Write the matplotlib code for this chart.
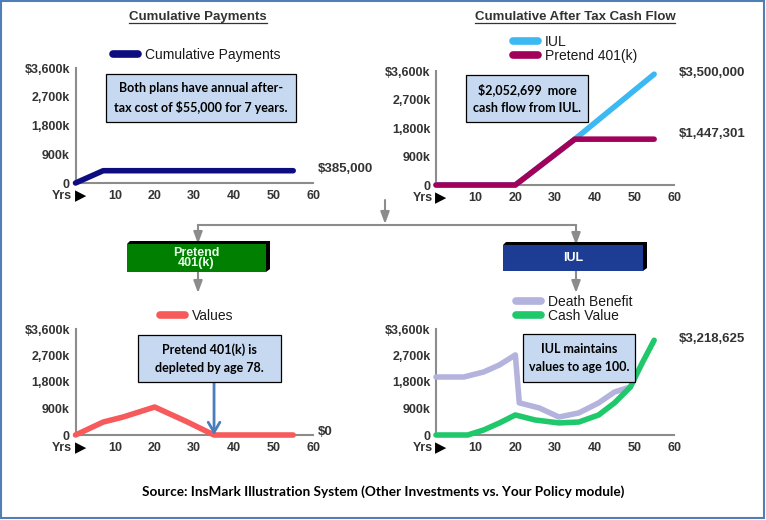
import numpy as np
import matplotlib
matplotlib.use("Agg")
import matplotlib.pyplot as plt
from matplotlib.patches import Rectangle, Polygon, FancyArrowPatch
from matplotlib.lines import Line2D

plt.rcParams['font.family'] = ['Liberation Sans', 'DejaVu Sans']

# ---- data ----
year_ticks = [10, 20, 30, 40, 50, 60]
year_labels = ['10', '20', '30', '40', '50', '60']
value_ticks = [0, 900000, 1800000, 2700000, 3600000]
value_labels = ['0', '900k', '1,800k', '2,700k', '$3,600k']

pay_years = [0, 7, 55]
pay_values = [0, 385000, 385000]

cf_years = [0, 20, 35, 55]
iul_cf = [0, 0, 1447301, 3500000]
k401_cf = [0, 0, 1447301, 1447301]

val_years = [0, 7, 12, 20, 28, 35, 55]
k401_values = [0, 440000, 610000, 950000, 460000, 0, 0]

db_years = [0, 7, 12, 16, 20, 21, 26, 31, 36, 41, 45, 49]
death_benefit = [1970000, 1970000, 2140000, 2380000, 2720000, 1090000, 920000,
                 610000, 750000, 1090000, 1460000, 1630000]
cv_years = [0, 8, 12, 16, 20, 25, 31, 36, 41, 45, 49, 52, 55]
cash_value = [0, 0, 170000, 410000, 680000, 510000, 410000, 440000, 680000,
              1090000, 1630000, 2450000, 3218625]

W, H = 766, 520
GRAY = '#8c8c8c'
TXT = '#333333'


def fx(px):
    return px / W


def fy(py):
    return 1 - py / H


fig = plt.figure(figsize=(W / 100, H / 100), dpi=100, facecolor='white')


def make_axes(left, top, right, bottom):
    ax = fig.add_axes([fx(left), fy(bottom), (right - left) / W, (bottom - top) / H])
    ax.set_xlim(0, 60)
    ax.set_ylim(0, 3600000)
    ax.set_xticks(year_ticks)
    ax.set_xticklabels(year_labels)
    ax.set_yticks(value_ticks)
    ax.set_yticklabels(value_labels)
    ax.tick_params(length=0, labelsize=9, colors=TXT)
    ax.tick_params(axis='x', pad=5)
    ax.tick_params(axis='y', pad=4)
    for lab in ax.get_xticklabels() + ax.get_yticklabels():
        lab.set_fontweight('bold')
    for s in ['top', 'right']:
        ax.spines[s].set_visible(False)
    for s in ['left', 'bottom']:
        ax.spines[s].set_color(GRAY)
        ax.spines[s].set_linewidth(1.5)
    ax.patch.set_visible(False)
    ax.annotate('Yrs', xy=(0, 0), xycoords=('data', 'axes fraction'),
                xytext=(-2.5, -5), textcoords='offset points', ha='right', va='top',
                fontsize=9, fontweight='bold', color=TXT)
    ax.annotate('▶', xy=(0, 0), xycoords=('data', 'axes fraction'),
                xytext=(-0.5, -3.8), textcoords='offset points', ha='left', va='top',
                fontsize=10.5, family='DejaVu Sans', color='black')
    return ax


def line(ax, x, y, color, label):
    ax.plot(x, y, color=color, lw=4, solid_capstyle='round',
            solid_joinstyle='round', clip_on=False, zorder=3, label=label)


def end_label(ax, x, y, text, dy=0):
    ax.annotate(text, xy=(x, y), xytext=(18, dy), textcoords='offset points',
                ha='left', va='center', fontsize=9.5, fontweight='bold', color=TXT)


def legend(ax, left, cy):
    leg = ax.legend(loc='center left', bbox_to_anchor=(fx(left), fy(cy)),
                    bbox_transform=fig.transFigure, frameon=False, fontsize=10,
                    handlelength=1.8, handletextpad=0.5, borderpad=0,
                    borderaxespad=0, labelspacing=0.0, labelcolor='#1a1a1a')
    for h in leg.get_lines():
        h.set_linewidth(5.5)
        h.set_solid_capstyle('round')


def note(x0, y0, x1, y1, text):
    fig.add_artist(Rectangle((fx(x0), fy(y1)), (x1 - x0) / W, (y1 - y0) / H,
                             transform=fig.transFigure, facecolor='#c6d9f1',
                             edgecolor='black', lw=0.9, zorder=5))
    fig.text(fx((x0 + x1) / 2), fy((y0 + y1) / 2), text, ha='center', va='center',
             family='Lato', fontweight='bold', fontsize=9, linespacing=1.65,
             color='black', zorder=6)


def button(x0, y0, x1, y1, color, text, tcolor, size):
    shadow = [(x0, y0), (x0 + 3, y0 - 3), (x1 + 4, y0 - 3), (x1 + 4, y1 - 3), (x1, y1)]
    fig.add_artist(Polygon([(fx(a), fy(b)) for a, b in shadow], closed=True,
                           transform=fig.transFigure, facecolor='black', lw=0))
    fig.add_artist(Rectangle((fx(x0), fy(y1)), (x1 - x0) / W, (y1 - y0) / H,
                             transform=fig.transFigure, facecolor=color, lw=0))
    fig.text(fx((x0 + x1) / 2), fy((y0 + y1) / 2), text, ha='center', va='center',
             fontsize=size, fontweight='bold', color=tcolor, linespacing=0.7)


def arrow(x, y0, y1):
    fig.add_artist(FancyArrowPatch((fx(x), fy(y0)), (fx(x), fy(y1)),
                                   transform=fig.transFigure,
                                   arrowstyle='-|>,head_length=0.6,head_width=0.22',
                                   mutation_scale=12, color=GRAY, lw=1.5,
                                   shrinkA=0, shrinkB=0))


# ---- top left: cumulative payments ----
ax1 = make_axes(75.5, 68, 313, 183)
line(ax1, pay_years, pay_values, '#0d0d80', 'Cumulative Payments')
end_label(ax1, pay_years[-1], pay_values[-1], '$385,000', 1)
legend(ax1, 113, 55)

# ---- top right: cumulative after tax cash flow ----
ax2 = make_axes(436, 71, 674, 185)
line(ax2, cf_years, iul_cf, '#3cb9f2', 'IUL')
line(ax2, cf_years, k401_cf, '#a3005a', 'Pretend 401(k)')
end_label(ax2, cf_years[-1], iul_cf[-1], '$3,500,000', 1)
end_label(ax2, cf_years[-1], k401_cf[-1], '$1,447,301', 4)
legend(ax2, 513, 49)

# ---- bottom left: pretend 401(k) values ----
ax3 = make_axes(75.5, 329, 313, 435)
line(ax3, val_years, k401_values, '#f75a5a', 'Values')
end_label(ax3, val_years[-1], k401_values[-1], '$0', 2)
legend(ax3, 160, 316)

# ---- bottom right: IUL values ----
ax4 = make_axes(436, 329, 674, 435)
line(ax4, db_years, death_benefit, '#b3b3dd', 'Death Benefit')
line(ax4, cv_years, cash_value, '#1fc86a', 'Cash Value')
end_label(ax4, cv_years[-1], cash_value[-1], '$3,218,625', 1)
legend(ax4, 516, 309)

# ---- titles ----
titles = [fig.text(fx(198), fy(17), 'Cumulative Payments', ha='center', va='center',
                   fontsize=9.5, fontweight='bold', color=TXT),
          fig.text(fx(575), fy(17), 'Cumulative After Tax Cash Flow', ha='center',
                   va='center', fontsize=9.5, fontweight='bold', color=TXT)]

# ---- note boxes ----
note(106, 74, 296, 122, 'Both plans have annual after-\ntax cost of $55,000 for 7 years.')
note(466, 75, 588, 122, '$2,052,699  more\ncash flow from IUL.')
note(138, 335, 281, 382, 'Pretend 401(k) is\ndepleted by age 78.')
note(523, 334, 635, 382, 'IUL maintains\nvalues to age 100.')

ax3.annotate('', xy=(35, 0), xytext=(35, fy(382)),
             textcoords=('data', 'figure fraction'),
             arrowprops=dict(arrowstyle='->,head_length=0.6,head_width=0.35',
                             color='#4a7ebb', lw=2, shrinkA=0, shrinkB=0,
                             mutation_scale=12))

# ---- connectors and buttons ----
arrow(385, 200, 224)
fig.add_artist(Line2D([fx(198), fx(576)], [fy(225), fy(225)],
                      transform=fig.transFigure, color=GRAY, lw=1.5))
arrow(198, 225, 244)
arrow(576, 225, 245)
arrow(198, 272, 293)
arrow(576, 271, 293)
button(127, 244, 266, 272, '#007f00', 'Pretend\n401(k)', '#e6ffe6', 9)
button(503, 245, 643, 271, '#1c3d93', 'IUL', 'white', 9)

# ---- source line ----
fig.text(fx(383), fy(492),
         'Source: InsMark Illustration System (Other Investments vs. Your Policy module)',
         ha='center', va='center', family='Lato', fontweight='bold', fontsize=9.8,
         color='black')

# ---- outer border ----
fig.add_artist(Rectangle((fx(1), fy(518)), 763 / W, 517 / H, transform=fig.transFigure,
                         facecolor='none', edgecolor='#4f7fb5', lw=1.5))

# underline the titles
fig.canvas.draw()
for t in titles:
    bb = t.get_window_extent()
    fig.add_artist(Line2D([bb.x0 / W, bb.x1 / W], [fy(23), fy(23)],
                          transform=fig.transFigure, color=TXT, lw=0.9))

fig.savefig('out.png', dpi=100)
